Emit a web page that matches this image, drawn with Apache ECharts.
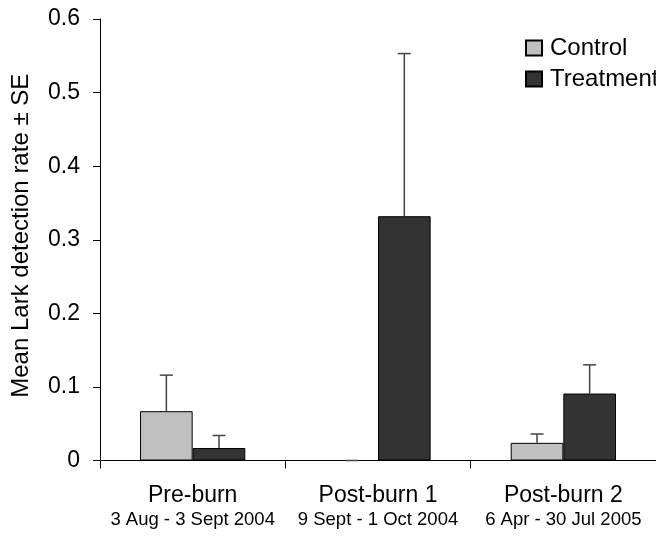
<!DOCTYPE html>
<html>
<head>
<meta charset="utf-8">
<script src="https://cdn.jsdelivr.net/npm/echarts@6/dist/echarts.min.js"></script>
<style>
html,body{margin:0;padding:0;background:#fff;}
#chart{width:656px;height:543px;}
</style>
</head>
<body>
<div id="chart"></div>
<script>
const categories = ['Pre-burn', 'Post-burn 1', 'Post-burn 2'];
const dateRanges = ['3 Aug - 3 Sept 2004', '9 Sept - 1 Oct 2004', '6 Apr - 30 Jul 2005'];
const controlMean = [0.067, 0, 0.024];
const controlSE = [0.049, 0, 0.012];
const treatmentMean = [0.017, 0.332, 0.091];
const treatmentSE = [0.017, 0.221, 0.039];
const yTicks = [0, 0.1, 0.2, 0.3, 0.4, 0.5, 0.6];

const FONT = 'Liberation Sans, Arial, sans-serif';
const BAR_FRAC = 0.284;

function errorSeries(name, means, ses, side) {
  return {
    type: 'custom',
    name: name + ' SE',
    z: 5,
    data: means.map((m, i) => [i, m, ses[i]]),
    renderItem: function (params, api) {
      const i = api.value(0), m = api.value(1), se = api.value(2);
      const band = api.size([1, 0])[0];
      const off = side * band * BAR_FRAC / 2;
      const p0 = api.coord([i, m]);
      const p1 = api.coord([i, m + se]);
      const x = p0[0] + off;
      const cap = 6.5;
      const style = { stroke: '#444', lineWidth: 1.5 };
      return {
        type: 'group',
        children: [
          { type: 'line', shape: { x1: x, y1: p0[1], x2: x, y2: p1[1] }, style: style },
          { type: 'line', shape: { x1: x - cap, y1: p1[1], x2: x + cap, y2: p1[1] }, style: style }
        ]
      };
    }
  };
}

const chart = echarts.init(document.getElementById('chart'), null, { renderer: 'canvas' });
chart.setOption({
  animation: false,
  backgroundColor: '#fff',
  textStyle: { fontFamily: FONT, color: '#000' },
  grid: { left: 100, right: -5, top: 19, bottom: 82.5, containLabel: false },
  legend: {
    orient: 'vertical',
    left: 520,
    top: 31,
    itemWidth: 16,
    itemHeight: 15,
    itemGap: 7,
    icon: 'rect',
    data: ['Control', 'Treatment'],
    textStyle: { fontFamily: FONT, fontSize: 24, color: '#000', padding: [0, 0, 0, 3] }
  },
  xAxis: {
    type: 'category',
    data: categories,
    boundaryGap: true,
    axisLine: { show: true, lineStyle: { color: '#000', width: 1 } },
    axisTick: { show: true, length: 8, inside: false, lineStyle: { color: '#000' } },
    axisLabel: {
      margin: 22,
      formatter: function (v, idx) { return '{a|' + v + '}\n{b|' + dateRanges[idx] + '}'; },
      rich: {
        a: { fontFamily: FONT, fontSize: 23, lineHeight: 26, color: '#000' },
        b: { fontFamily: FONT, fontSize: 18.5, lineHeight: 22, color: '#000' }
      }
    },
    splitLine: { show: false }
  },
  yAxis: {
    type: 'value',
    min: 0,
    max: 0.6,
    interval: 0.1,
    name: 'Mean Lark detection rate ± SE',
    nameLocation: 'middle',
    nameRotate: 90,
    nameGap: 67,
    nameTextStyle: { fontFamily: FONT, fontSize: 24, color: '#000', padding: [0, 0, 0, 8] },
    axisLine: { show: true, lineStyle: { color: '#000', width: 1 } },
    axisTick: { show: true, length: 7, inside: false, lineStyle: { color: '#000' } },
    axisLabel: {
      margin: 20,
      fontFamily: FONT,
      fontSize: 23,
      color: '#000',
      formatter: function (v) {
        const t = yTicks.find(x => Math.abs(x - v) < 1e-9);
        return t === 0 ? '0' : (t !== undefined ? t.toFixed(1) : '');
      }
    },
    splitLine: { show: false }
  },
  series: [
    {
      name: 'Control',
      type: 'bar',
      data: controlMean,
      barWidth: (BAR_FRAC * 100) + '%',
      barGap: '0%',
      itemStyle: { color: '#C0C0C0', borderColor: '#000', borderWidth: 1 }
    },
    {
      name: 'Treatment',
      type: 'bar',
      data: treatmentMean,
      barWidth: (BAR_FRAC * 100) + '%',
      barGap: '0%',
      itemStyle: { color: '#333333', borderColor: '#000', borderWidth: 1 }
    },
    errorSeries('Control', controlMean, controlSE, -1),
    errorSeries('Treatment', treatmentMean, treatmentSE, 1)
  ]
});
</script>
</body>
</html>
